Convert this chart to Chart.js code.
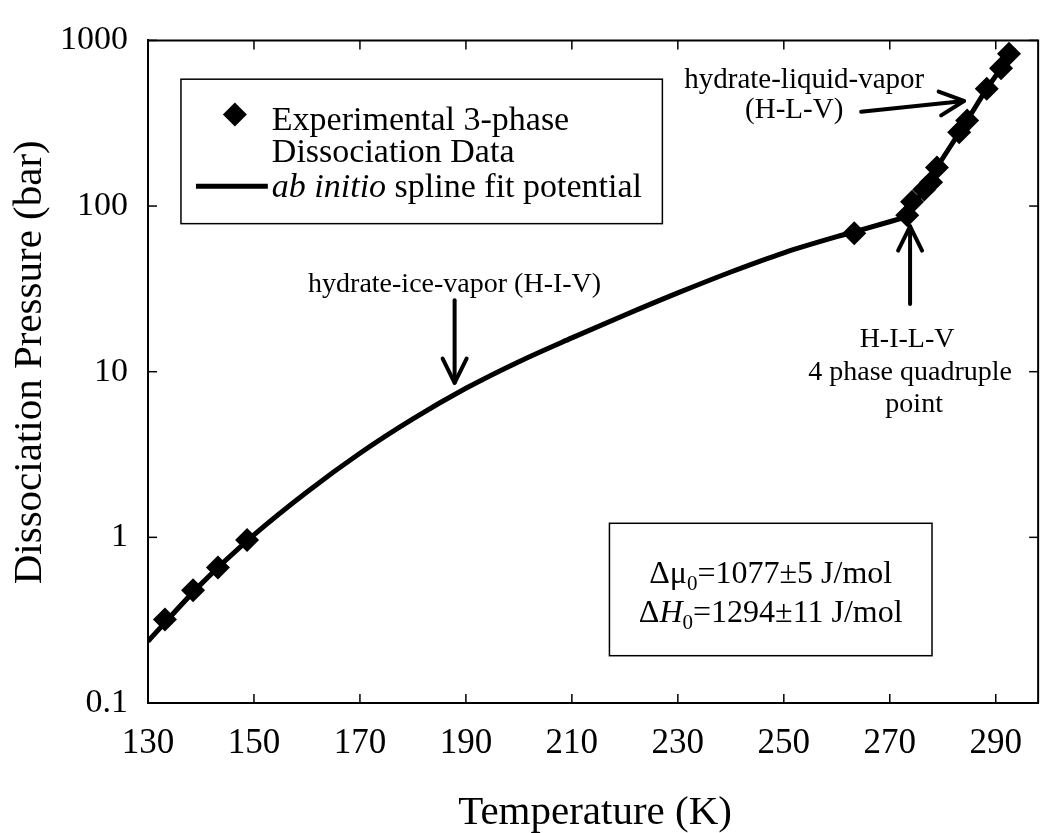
<!DOCTYPE html>
<html><head><meta charset="utf-8">
<script src="https://cdn.jsdelivr.net/npm/chart.js@4.4.0/dist/chart.umd.min.js"></script>
<style>html,body{margin:0;padding:0;background:#fff;}#wrap{width:1042px;height:833px;}</style>
</head><body><div id="wrap"><canvas id="c" width="1042" height="833"></canvas></div>
<script>
// ---- data ----
const expT = [133.2, 138.5, 143.2, 148.7, 263.3, 273.3, 274.2, 276.5, 277.8, 278.9, 283.1, 284.6, 288.3, 291.0, 292.5];
const expP = [0.319, 0.48, 0.657, 0.964, 68.5, 88, 106, 126, 139, 171, 279, 329, 510, 678, 832];
// ab initio spline fit: hydrate-ice-vapor branch
const hivT = [130, 140, 150, 160, 170, 180, 190, 200, 210, 220, 230, 240, 250, 260, 263.3, 273.3];
const hivP = [0.236, 0.522, 1.035, 1.88, 3.22, 5.19, 7.94, 11.5, 16.0, 22.0, 29.9, 40.0, 52.2, 65.3, 69.8, 86.3];
// ab initio spline fit: hydrate-liquid-vapor branch
const hlvT = [273.3, 278.9, 284.6, 288.3, 291.0, 293.5];
const hlvP = [86.3, 171, 329, 510, 678, 900];
const xTicks = [130, 150, 170, 190, 210, 230, 250, 270, 290];
const yTicks = [0.1, 1, 10, 100, 1000];
const yTickLabels = ['0.1', '1', '10', '100', '1000'];

const SERIF = '"Liberation Serif", "Times New Roman", serif';
const toXY = (T, P) => T.map((t, i) => ({x: t, y: P[i]}));

function line(ctx, x1, y1, x2, y2) { ctx.beginPath(); ctx.moveTo(x1, y1); ctx.lineTo(x2, y2); ctx.stroke(); }
function arrow(ctx, x1, y1, x2, y2) {
  ctx.lineWidth = 4; ctx.lineCap = 'round'; ctx.lineJoin = 'round';
  line(ctx, x1, y1, x2, y2);
  const ang = Math.atan2(y2 - y1, x2 - x1), L = 27, spread = 0.46;
  ctx.beginPath();
  ctx.moveTo(x2 - L * Math.cos(ang - spread), y2 - L * Math.sin(ang - spread));
  ctx.lineTo(x2, y2);
  ctx.lineTo(x2 - L * Math.cos(ang + spread), y2 - L * Math.sin(ang + spread));
  ctx.stroke();
}
function rich(ctx, parts, x, y, align) {
  let w = 0;
  parts.forEach(p => { ctx.font = p.f; p.w = ctx.measureText(p.t).width; w += p.w; });
  let cx = align === 'left' ? x : x - w / 2;
  ctx.textAlign = 'left'; ctx.textBaseline = 'alphabetic';
  parts.forEach(p => { ctx.font = p.f; ctx.fillText(p.t, cx, y + (p.dy || 0)); cx += p.w; });
}
function diamond(ctx, x, y, r) {
  ctx.beginPath(); ctx.moveTo(x, y - r); ctx.lineTo(x + r, y); ctx.lineTo(x, y + r); ctx.lineTo(x - r, y); ctx.closePath(); ctx.fill();
}

const decor = {
  id: 'decor',
  afterDraw(chart) {
    const {ctx, chartArea: a, scales: {x, y}} = chart;
    const px = v => x.getPixelForValue(v), py = v => y.getPixelForValue(v);
    ctx.save();
    ctx.strokeStyle = '#000'; ctx.fillStyle = '#000';
    // frame (top/right) and inward ticks
    ctx.lineWidth = 2;
    ctx.beginPath(); ctx.moveTo(a.left, a.top); ctx.lineTo(a.right, a.top); ctx.lineTo(a.right, a.bottom); ctx.stroke();
    ctx.lineWidth = 1.5;
    xTicks.forEach(v => { const X = px(v); line(ctx, X, a.bottom, X, a.bottom - 9); line(ctx, X, a.top, X, a.top + 9); });
    yTicks.forEach(v => { const Y = py(v); line(ctx, a.left, Y, a.left + 9, Y); line(ctx, a.right, Y, a.right - 9, Y); });

    // axis titles
    ctx.font = '41px ' + SERIF; ctx.textAlign = 'center'; ctx.textBaseline = 'alphabetic';
    ctx.fillText('Temperature (K)', (a.left + a.right) / 2 + 2, 824);
    ctx.save(); ctx.translate(41, py(11.4)); ctx.rotate(-Math.PI / 2);
    ctx.fillText('Dissociation Pressure (bar)', 0, 0); ctx.restore();

    // legend box
    const lx = px(136.22), ly = py(583.2), lx2 = px(227.08), ly2 = py(78.3);
    ctx.lineWidth = 1.5; ctx.strokeRect(lx, ly, lx2 - lx, ly2 - ly);
    diamond(ctx, px(146.4), py(357), 12);
    ctx.lineWidth = 5; ctx.lineCap = 'butt'; line(ctx, px(139.05), py(131.6), px(152.62), py(131.6));
    const lf = '34px ' + SERIF, lfi = 'italic 34px ' + SERIF;
    rich(ctx, [{t: 'Experimental 3-phase', f: lf}], px(153.37), py(286.2), 'left');
    rich(ctx, [{t: 'Dissociation Data', f: lf}], px(153.37), py(184.9), 'left');
    rich(ctx, [{t: 'ab initio', f: lfi}, {t: ' spline fit potential', f: lf}], px(153.37), py(113.1), 'left');

    // parameter box
    const bx = px(217.09), by = py(1.216), bx2 = px(277.97), by2 = py(0.193);
    ctx.lineWidth = 1.5; ctx.strokeRect(bx, by, bx2 - bx, by2 - by);
    const cx = px(247.53);
    const bf = '32px ' + SERIF, bfs = '21px ' + SERIF, bfi = 'italic 32px ' + SERIF;
    rich(ctx, [{t: 'Δμ', f: bf}, {t: '0', f: bfs, dy: 7}, {t: '=1077±5 J/mol', f: bf}], cx, py(0.531), 'center');
    rich(ctx, [{t: 'Δ', f: bf}, {t: 'H', f: bfi}, {t: '0', f: bfs, dy: 7}, {t: '=1294±11 J/mol', f: bf}], cx, py(0.3076), 'center');

    // annotations
    ctx.font = '28px ' + SERIF; ctx.textAlign = 'center'; ctx.textBaseline = 'alphabetic';
    ctx.fillText('hydrate-ice-vapor (H-I-V)', px(187.87), py(30.1));
    ctx.font = '29px ' + SERIF;
    ctx.fillText('hydrate-liquid-vapor', px(253.85), py(516));
    ctx.fillText('(H-L-V)', px(251.96), py(342));
    ctx.font = '28px ' + SERIF;
    ctx.fillText('H-I-L-V', px(273.26), py(14.0));
    ctx.fillText('4 phase quadruple', px(273.83), py(8.93));
    ctx.fillText('point', px(274.6), py(5.69));
    arrow(ctx, px(187.87), py(27.0), px(187.87), py(8.57));
    arrow(ctx, px(264.59), py(370.9), px(284.0), py(430.9));
    arrow(ctx, px(273.83), py(25.6), px(273.83), py(75.4));
    ctx.restore();
  }
};

const opts = {
  responsive: false, animation: false, devicePixelRatio: 1,
  layout: {autoPadding: false, padding: {top: 29, right: 2, left: 0, bottom: 0}},
  plugins: {legend: {display: false}, tooltip: {enabled: false}},
  scales: {
    x: {
      type: 'linear', min: 130, max: 298,
      afterBuildTicks: s => { s.ticks = xTicks.map(v => ({value: v})); },
      afterFit: s => { s.height = 130; },
      ticks: {font: {family: SERIF, size: 35}, color: '#000', padding: 20, maxRotation: 0, autoSkip: false},
      grid: {drawOnChartArea: false, drawTicks: false},
      border: {display: true, color: '#000', width: 2},
      title: {display: false}
    },
    y: {
      type: 'logarithmic', min: 0.1, max: 1000,
      afterBuildTicks: s => { s.ticks = yTicks.map(v => ({value: v})); },
      afterFit: s => { s.width = 148; },
      ticks: {font: {family: SERIF, size: 34}, color: '#000', padding: 20, autoSkip: false,
              callback: (v) => yTickLabels[yTicks.indexOf(v)]},
      grid: {drawOnChartArea: false, drawTicks: false},
      border: {display: true, color: '#000', width: 2},
      title: {display: false}
    }
  }
};

const chart = new Chart(document.getElementById('c'), {
  type: 'scatter',
  data: {
    datasets: [
      {label: 'ab initio spline fit potential', data: toXY(hivT, hivP), showLine: true, borderColor: '#000', borderWidth: 5,
       pointRadius: 0, cubicInterpolationMode: 'monotone', order: 2},
      {label: 'ab initio spline fit potential (H-L-V)', data: toXY(hlvT, hlvP), showLine: true, borderColor: '#000', borderWidth: 5,
       pointRadius: 0, cubicInterpolationMode: 'monotone', order: 2},
      {label: 'Experimental 3-phase Dissociation Data', data: toXY(expT, expP), showLine: false, pointStyle: 'rectRot',
       pointRadius: 12, backgroundColor: '#000', borderColor: '#000', borderWidth: 0, order: 1}
    ]
  },
  options: opts,
  plugins: [decor]
});
// nudge the layout so the plot frame sits where the reference frame is (top 28.5, right 1040)
const pad = chart.options.layout.padding;
const dTop = chart.chartArea.top - 28.5, dRight = 1040 - chart.chartArea.right;
if (Math.abs(dTop) > 0.5 || Math.abs(dRight) > 0.5) {
  chart.options.layout.padding = {top: Math.max(0, pad.top - dTop), right: Math.max(0, pad.right - dRight), left: 0, bottom: 0};
  chart.update();
}
</script></body></html>
